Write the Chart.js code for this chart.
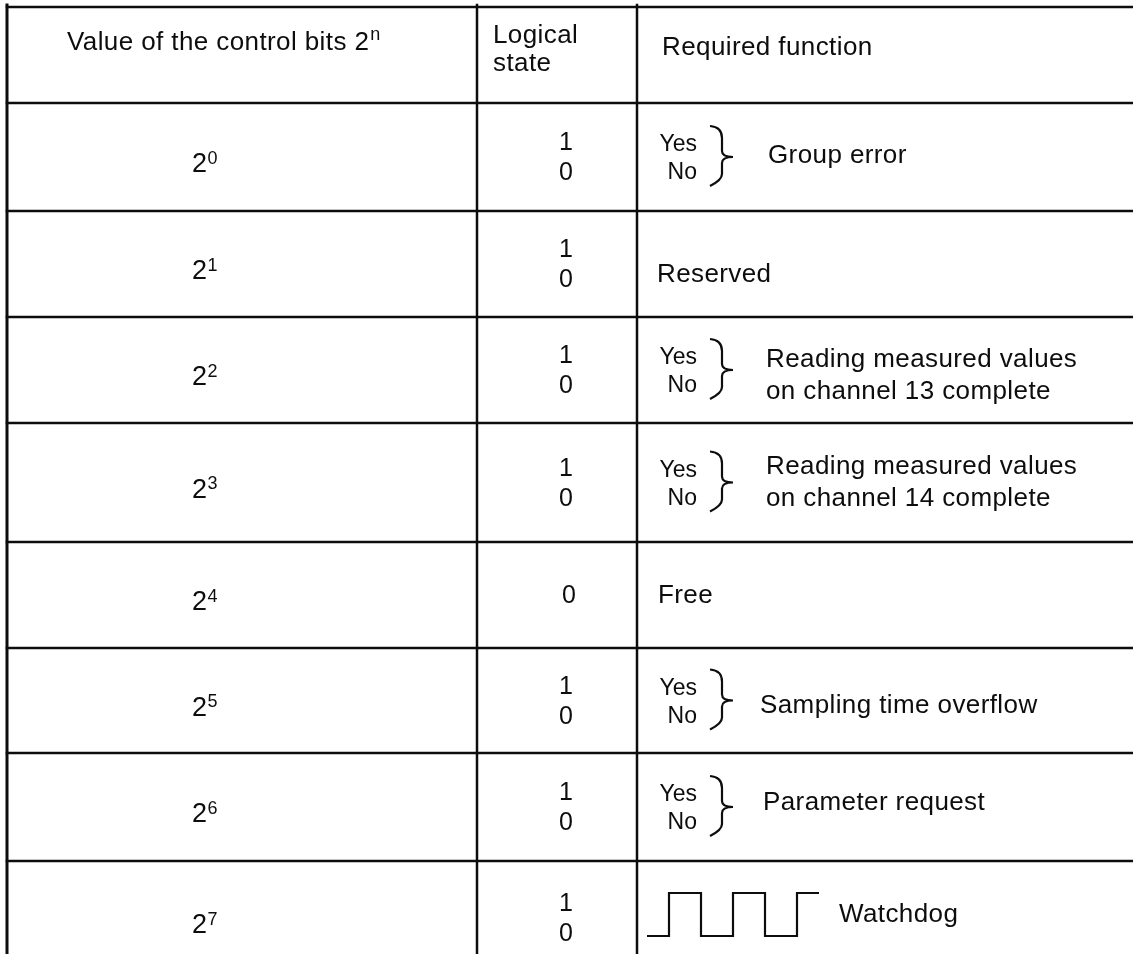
<!DOCTYPE html>
<html>
<head>
<meta charset="utf-8">
<script src="https://cdn.jsdelivr.net/npm/chart.js@4.4.1/dist/chart.umd.min.js"></script>
<style>
  html, body { margin: 0; padding: 0; background: #fff; }
  #wrap { width: 1133px; height: 954px; }
</style>
</head>
<body>
<div id="wrap"><canvas id="control-bits" width="1133" height="954"></canvas></div>
<script>
// Table content
const headerBits = 'Value of the control bits 2';
const headerBitsSup = 'n';
const headerState = ['Logical', 'state'];
const headerFunction = 'Required function';

const bitExponents = ['0', '1', '2', '3', '4', '5', '6', '7'];
const logicalStates = [['1', '0'], ['1', '0'], ['1', '0'], ['1', '0'], ['0'], ['1', '0'], ['1', '0'], ['1', '0']];
const hasYesNo = [true, false, true, true, false, true, true, false];
const yesNoLabels = ['Yes', 'No'];
const functionLines = [
  ['Group error'],
  ['Reserved'],
  ['Reading measured values', 'on channel 13 complete'],
  ['Reading measured values', 'on channel 14 complete'],
  ['Free'],
  ['Sampling time overflow'],
  ['Parameter request'],
  ['Watchdog'],
];
// Watchdog pulse train (logical level of each segment)
const watchdogLevels = [0, 1, 0, 1, 0, 1];

// Layout, in the units of the (hidden) x / y scales
const colEdges = [7, 477, 637, 1133];
const rowEdges = [7, 103, 211, 317, 423, 542, 648, 753, 861, 975];
const funcTextX = [768, 657, 766, 766, 658, 760, 763, 839];
const funcTextDy = [-2, 10, 3, -3, 0, 4, -5, -4];
const wave = { x0: 647, lead: 22, half: 32, low: 936, high: 893 };

const FONT = '"Liberation Sans", Arial, Helvetica, sans-serif';
const INK = '#0d0d0d';

const rule = (points, width) => ({
  data: points,
  showLine: true,
  borderColor: INK,
  borderWidth: width,
  pointRadius: 0,
  borderCapStyle: 'square',
});

const datasets = [];
// Horizontal rules
rowEdges.slice(0, -1).forEach((y) => {
  datasets.push(rule([{ x: colEdges[0], y }, { x: colEdges[3], y }], 2.5));
});
// Vertical rules (no right border, open at the bottom)
colEdges.slice(0, 3).forEach((x, i) => {
  datasets.push(rule([{ x, y: rowEdges[0] - 2 }, { x, y: 954 }], i === 0 ? 3 : 2.5));
});
// Watchdog square wave
const wavePoints = [{ x: wave.x0, y: watchdogLevels[0] ? wave.high : wave.low }];
watchdogLevels.forEach((lvl, i) => {
  if (i === 0) return;
  wavePoints.push({ x: wave.x0 + wave.lead + (i - 1) * wave.half, y: lvl ? wave.high : wave.low });
});
const lastLvl = watchdogLevels[watchdogLevels.length - 1];
wavePoints.push({ x: wave.x0 + wave.lead + (watchdogLevels.length - 2) * wave.half + wave.lead, y: lastLvl ? wave.high : wave.low });
datasets.push({ ...rule(wavePoints, 2.2), stepped: 'before', borderCapStyle: 'butt', borderJoinStyle: 'miter' });

const tableText = {
  id: 'tableText',
  afterDatasetsDraw(c) {
    const { ctx } = c;
    const px = (v) => c.scales.x.getPixelForValue(v);
    const py = (v) => c.scales.y.getPixelForValue(v);
    const text = (str, x, y, size, align, spacing) => {
      ctx.font = size + 'px ' + FONT;
      ctx.textAlign = align || 'left';
      ctx.textBaseline = 'alphabetic';
      ctx.letterSpacing = (spacing === undefined ? 0.4 : spacing) + 'px';
      ctx.fillText(str, px(x), py(y));
      return ctx.measureText(str).width;
    };
    ctx.save();
    ctx.fillStyle = INK;

    // Header
    const w = text(headerBits, 67, 50, 26);
    text(headerBitsSup, 67 + w + 1, 40, 18, 'left', 0);
    text(headerState[0], 493, 43, 26);
    text(headerState[1], 493, 71, 26);
    text(headerFunction, 662, 55, 26);

    bitExponents.forEach((exp, i) => {
      const cy = (rowEdges[i + 1] + rowEdges[i + 2]) / 2;
      // 2^n
      const bw = text('2', 192, cy + 15, 27, 'left', 0);
      text(exp, 192 + bw + 0.5, cy + 6.5, 18, 'left', 0);
      // Logical state
      const st = logicalStates[i];
      if (st.length === 2) {
        text(st[0], 566, cy - 7, 25, 'center', 0);
        text(st[1], 566, cy + 23, 25, 'center', 0);
      } else {
        text(st[0], 569, cy + 8, 25, 'center', 0);
      }
      // Yes / No with brace
      if (hasYesNo[i]) {
        text(yesNoLabels[0], 697, cy - 6, 23, 'right', 0);
        text(yesNoLabels[1], 697, cy + 22, 23, 'right', 0);
        const x0 = px(710), xm = px(722), xt = px(733);
        const top = py(cy - 31), mid = py(cy), bot = py(cy + 29);
        ctx.beginPath();
        ctx.moveTo(x0, top);
        ctx.quadraticCurveTo(xm, top + 1, xm, top + 12);
        ctx.lineTo(xm, mid - 6);
        ctx.quadraticCurveTo(xm, mid, xt, mid);
        ctx.quadraticCurveTo(xm, mid, xm, mid + 6);
        ctx.lineTo(xm, bot - 12);
        ctx.quadraticCurveTo(xm, bot - 6, x0, bot);
        ctx.lineWidth = 2.2;
        ctx.strokeStyle = INK;
        ctx.stroke();
      }
      // Required function
      const lines = functionLines[i];
      if (lines.length === 1) {
        text(lines[0], funcTextX[i], cy + 8 + funcTextDy[i], 26);
      } else {
        text(lines[0], funcTextX[i], cy - 6 + funcTextDy[i], 26);
        text(lines[1], funcTextX[i], cy + 26 + funcTextDy[i], 26);
      }
    });
    ctx.restore();
  },
};

new Chart(document.getElementById('control-bits'), {
  type: 'scatter',
  data: { datasets },
  options: {
    responsive: false,
    devicePixelRatio: 1,
    animation: false,
    events: [],
    layout: { padding: 0 },
    scales: {
      x: { type: 'linear', min: 0, max: 1133, display: false },
      y: { type: 'linear', min: 0, max: 954, reverse: true, display: false },
    },
    plugins: {
      legend: { display: false },
      tooltip: { enabled: false },
    },
  },
  plugins: [tableText],
});
</script>
</body>
</html>
